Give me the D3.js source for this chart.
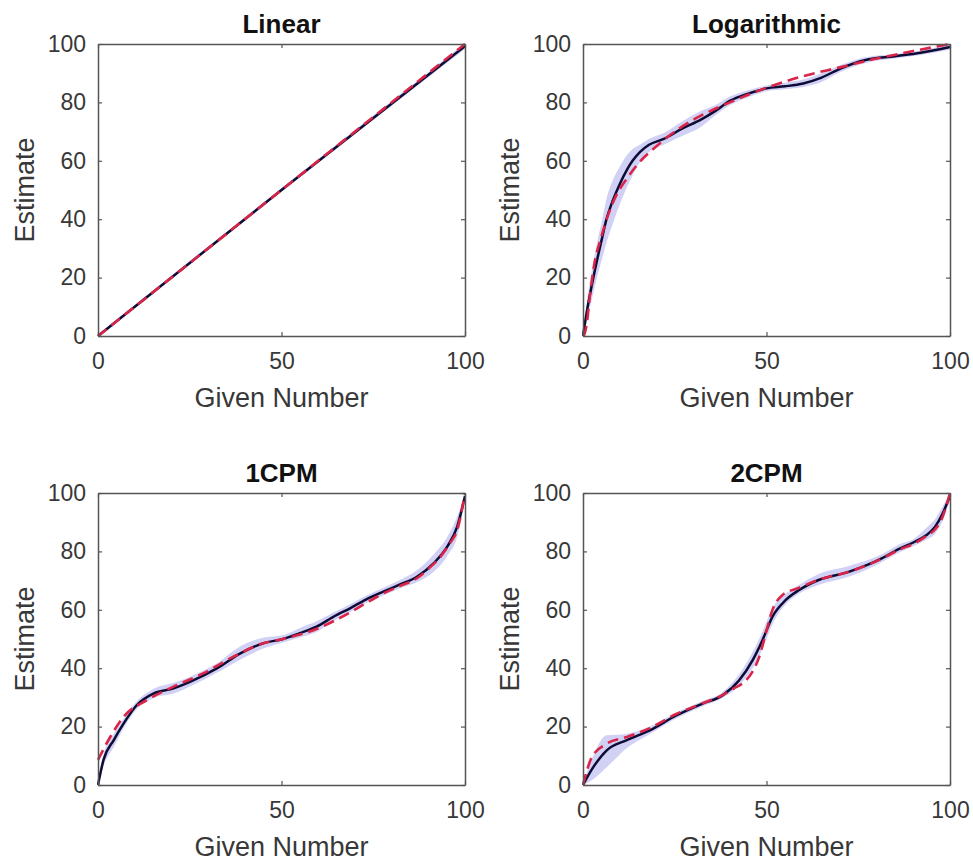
<!DOCTYPE html>
<html>
<head>
<meta charset="utf-8">
<script src="https://cdn.jsdelivr.net/npm/d3@7"></script>
<style>
  body { margin: 0; background: #fff; }
  text { font-family: "Liberation Sans", Arial, sans-serif; }
</style>
</head>
<body>
<svg id="chart"></svg>
<script>
// tick values and labels
var givenTicks = [0, 50, 100];
var estimateTicks = [0, 20, 40, 60, 80, 100];
var panelTitles = ["Linear", "Logarithmic", "1CPM", "2CPM"];

// Linear
var linearX = [0, 50, 100];
var linearMean = [0, 50, 99.3];
var linearLo = [-0.6, 49.4, 98.3];
var linearHi = [0.6, 50.6, 100.3];
var linearFitX = [0, 100];
var linearFit = [0, 100];

// Logarithmic
var logX = [0, 1, 2.5, 4, 5.1, 6.4, 8, 10, 12, 13.5, 15.5, 18, 22, 27, 32, 36, 40, 45, 50, 55, 60, 65, 70, 77, 85, 92, 100];
var logMean = [0, 8, 18, 27, 33, 40, 46, 52, 57, 60, 63, 65.5, 67.5, 71, 74, 77, 80.5, 83, 84.8, 85.5, 86.5, 88.5, 91.5, 94.5, 95.8, 97, 99];
var logLo = [0, 5, 13, 21, 26, 32, 38, 45, 51, 55, 59.5, 63, 65.5, 68.5, 71.5, 75.5, 79, 81.8, 83.8, 84.5, 85.3, 87, 90.3, 93.5, 95, 96.2, 98];
var logHi = [0, 11, 23, 33, 39, 47, 53, 58, 62, 64, 65.5, 67.5, 69.5, 73.5, 77, 79, 82, 84.2, 85.8, 86.7, 87.8, 90, 92.7, 95.5, 96.6, 97.8, 100];
var logFitX = [0, 0.5, 1, 2, 3, 5, 7, 9, 12, 15, 20, 25, 30, 40, 50, 60, 70, 80, 90, 100];
var logFit = [0, 1, 4, 15, 24, 34, 42, 48, 54, 59, 65, 70, 74, 80, 85, 89, 92, 95, 97.6, 100];

// 1CPM
var cpm1X = [0, 1.5, 4.3, 7, 10.6, 15.2, 20.6, 25.2, 32.5, 38.8, 45.2, 50.4, 55, 59.7, 64, 68.8, 73, 77.9, 82, 87, 91.5, 95.2, 97.9, 100];
var cpm1Mean = [0, 8.6, 15.4, 21.1, 27.4, 31.4, 33.1, 35.4, 40, 45.1, 48.6, 50, 52, 54.3, 57.5, 60.6, 63.5, 66.3, 68.5, 71.4, 76, 81.7, 88.6, 99];
var cpm1Lo = [0, 6.5, 13, 19.5, 26, 29.8, 31.3, 33.8, 38.5, 43, 46.8, 48.8, 50.5, 52.5, 56, 59.3, 62.3, 65, 67.2, 69.5, 73, 78.5, 85, 97.5];
var cpm1Hi = [0, 10.5, 17.5, 22.7, 28.8, 33, 35, 37.2, 41.8, 47.5, 50.5, 51.3, 53.8, 56.2, 59, 62, 64.8, 67.6, 70, 73.6, 79, 85, 92, 100];
var cpm1FitX = [0, 3.4, 7, 13.4, 20.6, 28.8, 37, 45.2, 50.4, 55, 59.7, 64, 68.8, 73, 77.9, 82, 87, 90, 93.4, 96, 97.9, 100];
var cpm1Fit = [8.6, 16.6, 23.4, 29.1, 33.7, 38.3, 44, 48.6, 50, 51.5, 53.5, 56, 59.2, 62.3, 65.7, 68, 70.9, 74, 78.3, 83, 87.4, 100];

// 2CPM
var cpm2X = [0, 2.8, 6.4, 11.8, 18.2, 25.4, 32.6, 38, 42.5, 46.2, 48.9, 51.6, 55.2, 58.8, 64.2, 72.4, 81.4, 86, 90.4, 93.5, 95.9, 98, 100];
var cpm2Mean = [0, 6.1, 11.8, 15.3, 18.7, 23.8, 27.9, 30.7, 35.8, 42.7, 49.6, 57.6, 63.3, 66.7, 70.2, 73, 77.6, 80.8, 83.3, 85.5, 88.4, 93, 99];
var cpm2Lo = [0, 2, 6, 12.5, 17.5, 22.8, 27, 29.8, 34, 40, 46.5, 55, 61.8, 65.5, 68.5, 71.3, 76.3, 79.5, 82, 84, 86, 90.5, 97.5];
var cpm2Hi = [0, 10, 17, 17.5, 20, 24.8, 28.8, 31.8, 37.8, 45.5, 52.5, 60.5, 65.5, 68.5, 72.3, 75, 79, 82.3, 84.5, 88, 91, 95.5, 100];
var cpm2FitX = [0, 2.4, 6.4, 11.8, 18.2, 25.4, 32.6, 38, 41, 44.4, 46.5, 48, 49.8, 51.6, 54.3, 58.8, 64.2, 72.4, 81.4, 86, 90.4, 93.5, 95.9, 97.6, 100];
var cpm2Fit = [0, 9.5, 14.1, 16.4, 19.5, 24.3, 28, 30.8, 33, 35.8, 39.5, 43.8, 51.9, 59.9, 65, 67.5, 70.3, 73, 77.5, 80.5, 82.8, 85.2, 87.5, 90.7, 100];

var panels = [
  {title: panelTitles[0], x: linearX, mean: linearMean, lo: linearLo, hi: linearHi, fx: linearFitX, fit: linearFit},
  {title: panelTitles[1], x: logX, mean: logMean, lo: logLo, hi: logHi, fx: logFitX, fit: logFit},
  {title: panelTitles[2], x: cpm1X, mean: cpm1Mean, lo: cpm1Lo, hi: cpm1Hi, fx: cpm1FitX, fit: cpm1Fit},
  {title: panelTitles[3], x: cpm2X, mean: cpm2Mean, lo: cpm2Lo, hi: cpm2Hi, fx: cpm2FitX, fit: cpm2Fit}
];

var width = 973, height = 862;
var cols = [98, 583], rows = [44, 493];
var pw = 367, ph = 292;

var svg = d3.select("#chart")
  .attr("width", width)
  .attr("height", height);

panels.forEach(function(p, i) {
  var left = cols[i % 2], top = rows[Math.floor(i / 2)];

  var x = d3.scaleLinear().domain([0, 100]).range([0, pw]);
  var y = d3.scaleLinear().domain([0, 100]).range([ph, 0]);

  var g = svg.append("g").attr("transform", "translate(" + left + "," + top + ")");

  g.append("clipPath").attr("id", "clip" + i)
    .append("rect").attr("x", -1).attr("y", -2).attr("width", pw + 2).attr("height", ph + 3);

  var plot = g.append("g").attr("clip-path", "url(#clip" + i + ")");

  var rowsData = p.x.map(function(v, j) { return {x: v, m: p.mean[j], lo: p.lo[j], hi: p.hi[j]}; });
  var fitData = p.fx.map(function(v, j) { return {x: v, y: p.fit[j]}; });

  var band = d3.area()
    .x(function(d) { return x(d.x); })
    .y0(function(d) { return y(d.lo); })
    .y1(function(d) { return y(d.hi); })
    .curve(d3.curveMonotoneX);

  var line = d3.line()
    .x(function(d) { return x(d.x); })
    .y(function(d) { return y(d.m); })
    .curve(d3.curveMonotoneX);

  var fitLine = d3.line()
    .x(function(d) { return x(d.x); })
    .y(function(d) { return y(d.y); })
    .curve(d3.curveMonotoneX);

  plot.append("path").datum(rowsData)
    .attr("d", band)
    .style("fill", "#c9c9f4")
    .style("opacity", 0.85);

  plot.append("path").datum(rowsData)
    .attr("d", line)
    .style("fill", "none")
    .style("stroke", "#0c0c36")
    .style("stroke-width", 2.5);

  plot.append("path").datum(fitData)
    .attr("d", fitLine)
    .style("fill", "none")
    .style("stroke", "#da2448")
    .style("stroke-width", 2.6)
    .style("stroke-dasharray", "11,6");

  // axes, MATLAB style with inward ticks on all four sides
  var tk = 4;
  var axB = g.append("g").attr("transform", "translate(0," + ph + ")")
    .call(d3.axisBottom(x).tickValues(givenTicks).tickSizeInner(-tk).tickSizeOuter(0).tickPadding(17));
  var axT = g.append("g")
    .call(d3.axisTop(x).tickValues(givenTicks).tickSizeInner(-tk).tickSizeOuter(0).tickFormat(""));
  var axL = g.append("g")
    .call(d3.axisLeft(y).tickValues(estimateTicks).tickSizeInner(-tk).tickSizeOuter(0).tickPadding(12));
  var axR = g.append("g").attr("transform", "translate(" + pw + ",0)")
    .call(d3.axisRight(y).tickValues(estimateTicks).tickSizeInner(-tk).tickSizeOuter(0).tickFormat(""));

  [axB, axT, axL, axR].forEach(function(a) {
    a.select(".domain").style("stroke", "#555").style("stroke-width", 1.5);
    a.selectAll(".tick line").style("stroke", "#555").style("stroke-width", 1.2);
    a.selectAll(".tick text")
      .style("font-size", "23px")
      .style("fill", "#383838")
      .style("font-family", "'Liberation Sans', Arial, sans-serif");
  });

  g.append("text")
    .attr("x", pw / 2).attr("y", -11)
    .attr("text-anchor", "middle")
    .style("font-size", "26px")
    .style("font-weight", "bold")
    .style("fill", "#111")
    .text(p.title);

  g.append("text")
    .attr("x", pw / 2).attr("y", ph + 71)
    .attr("text-anchor", "middle")
    .style("font-size", "27px")
    .style("fill", "#383838")
    .text("Given Number");

  g.append("text")
    .attr("transform", "translate(-64," + (ph / 2) + ") rotate(-90)")
    .attr("text-anchor", "middle")
    .style("font-size", "27px")
    .style("fill", "#383838")
    .text("Estimate");
});
</script>
</body>
</html>
